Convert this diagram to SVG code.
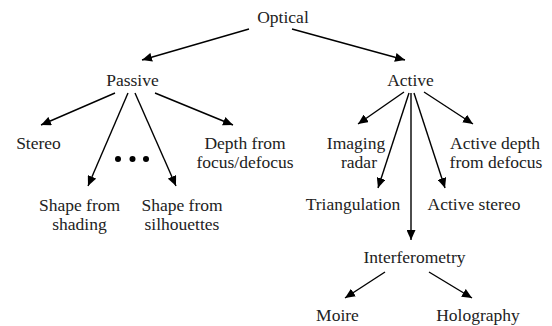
<svg xmlns="http://www.w3.org/2000/svg" width="552" height="326" viewBox="0 0 552 326">
<defs>
<marker id="ah" markerUnits="userSpaceOnUse" markerWidth="11" markerHeight="9" refX="10" refY="4.5" orient="auto">
<path d="M0,0 L10,4.5 L0,9 z" fill="#000"/>
</marker>
<style>
text{font-family:"Liberation Serif","Times New Roman",serif;font-size:17.5px;fill:#222;text-anchor:middle}
.c line{stroke:#000;stroke-width:1.4;marker-end:url(#ah)}
</style>
</defs>
<rect width="552" height="326" fill="#fff"/>
<g class="c" id="connectors">
<line x1="249" y1="29" x2="142" y2="60"/>
<line x1="292" y1="29" x2="405" y2="60"/>
<line x1="115" y1="93" x2="41" y2="125"/>
<line x1="155" y1="93" x2="233" y2="125"/>
<line x1="128" y1="93" x2="88" y2="186"/>
<line x1="135" y1="93" x2="176" y2="186"/>
<line x1="404" y1="92" x2="358" y2="124"/>
<line x1="424" y1="92" x2="473" y2="124"/>
<line x1="409" y1="93" x2="378" y2="188"/>
<line x1="414" y1="93" x2="445" y2="188"/>
<line x1="411" y1="93" x2="411" y2="240"/>
<line x1="385" y1="272" x2="345" y2="298"/>
<line x1="429" y1="272" x2="472" y2="298"/>
</g>
<g id="optical"><text x="283" y="23">Optical</text></g>
<g id="passive"><text x="132.5" y="86">Passive</text></g>
<g id="active"><text x="410.5" y="86">Active</text></g>
<g id="stereo"><text x="38.5" y="149">Stereo</text></g>
<g id="depth-focus"><text x="245" y="149">Depth from</text><text x="245" y="168">focus/defocus</text></g>
<g id="dots"><circle cx="118" cy="159" r="3"/><circle cx="132.5" cy="159" r="3"/><circle cx="146" cy="159" r="3"/></g>
<g id="shading"><text x="79.5" y="211">Shape from</text><text x="79.5" y="230">shading</text></g>
<g id="silhouettes"><text x="182" y="211">Shape from</text><text x="182" y="230">silhouettes</text></g>
<g id="imaging-radar"><text x="356" y="149">Imaging</text><text x="359" y="168">radar</text></g>
<g id="active-depth"><text x="495" y="149">Active depth</text><text x="496" y="168">from defocus</text></g>
<g id="triangulation"><text x="353" y="210">Triangulation</text></g>
<g id="active-stereo"><text x="474" y="210">Active stereo</text></g>
<g id="interferometry"><text x="414.5" y="263">Interferometry</text></g>
<g id="moire"><text x="337.5" y="321">Moire</text></g>
<g id="holography"><text x="478" y="321">Holography</text></g>
</svg>
